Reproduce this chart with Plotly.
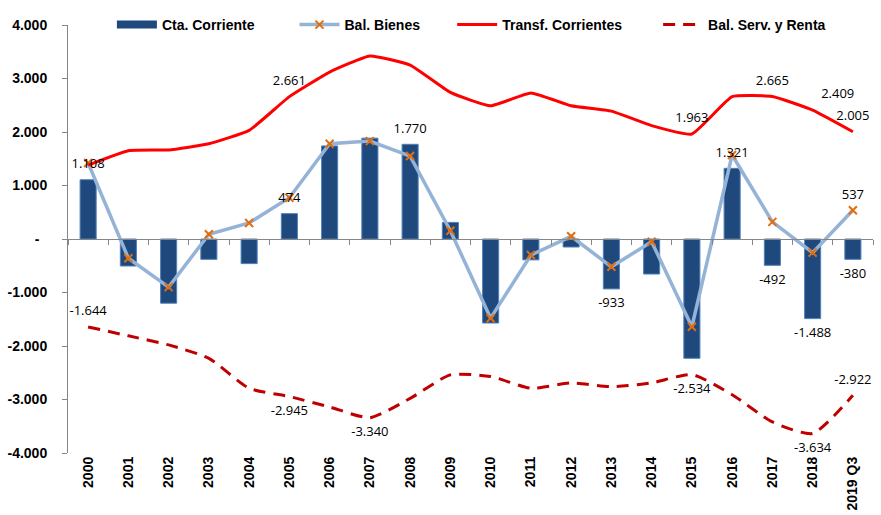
import plotly.graph_objects as go

years = ["2000", "2001", "2002", "2003", "2004", "2005", "2006", "2007", "2008", "2009",
         "2010", "2011", "2012", "2013", "2014", "2015", "2016", "2017", "2018", "2019 Q3"]

cta_corriente = [1108, -505, -1200, -380, -460, 474, 1740, 1885, 1770, 310,
                 -1570, -390, -150, -933, -655, -2230, 1321, -492, -1488, -380]
bal_bienes = [1420, -360, -900, 90, 300, 770, 1780, 1830, 1550, 155,
              -1480, -300, 50, -520, -50, -1640, 1570, 320, -255, 537]
transf_corrientes = [1380, 1650, 1665, 1780, 2030, 2661, 3120, 3420, 3250, 2740,
                     2490, 2730, 2490, 2390, 2120, 1963, 2660, 2665, 2409, 2005]
bal_serv_renta = [-1644, -1810, -1980, -2230, -2790, -2945, -3140, -3340, -2980, -2540,
                  -2570, -2790, -2690, -2760, -2690, -2534, -2910, -3420, -3634, -2922]

# which points carry a data label
cta_labeled = ["2000", "2005", "2008", "2013", "2016", "2017", "2018", "2019 Q3"]
bienes_labeled = ["2019 Q3"]
transf_labeled = ["2005", "2015", "2017", "2018", "2019 Q3"]
serv_labeled = ["2000", "2005", "2007", "2015", "2018", "2019 Q3"]

ytick_vals = [-4000, -3000, -2000, -1000, 0, 1000, 2000, 3000, 4000]
ytick_text = ["-4.000", "-3.000", "-2.000", "-1.000", "-\u00a0\u00a0", "1.000", "2.000", "3.000", "4.000"]

C_BAR = "#1F497D"
C_BIENES = "#95B3D7"
C_MARK = "#E46C0A"
C_TRANSF = "#FF0000"
C_SERV = "#C00000"
LBL_FONT = dict(family="Open Sans", size=13, color="#000000")


def fmt(v):
    s = f"{abs(v):,.0f}".replace(",", ".")
    return ("-" if v < 0 else "") + s


def label_trace(vals, labeled, positions):
    xs, ys, ts, ps = [], [], [], []
    for yr, v in zip(years, vals):
        if yr in labeled:
            xs.append(yr)
            ys.append(v)
            ts.append(fmt(v))
            ps.append(positions(yr, v))
    return go.Scatter(x=xs, y=ys, text=ts, textposition=ps, mode="markers+text",
                      marker=dict(size=12, opacity=0), textfont=LBL_FONT,
                      showlegend=False, hoverinfo="skip", cliponaxis=False)


fig = go.Figure()

# bars
fig.add_trace(go.Bar(x=years, y=cta_corriente, name="Cta. Corriente",
                     marker=dict(color=C_BAR, line=dict(color="#4F81BD", width=1)),
                     showlegend=False))
# lines
fig.add_trace(go.Scatter(x=years, y=bal_bienes, name="Bal. Bienes", mode="lines+markers",
                         line=dict(color=C_BIENES, width=3.5),
                         marker=dict(symbol="x-thin", size=8, color=C_MARK,
                                     line=dict(color=C_MARK, width=2)),
                         showlegend=False))
fig.add_trace(go.Scatter(x=years, y=transf_corrientes, name="Transf. Corrientes", mode="lines",
                         line=dict(color=C_TRANSF, width=3, shape="spline", smoothing=0.4),
                         showlegend=False))
fig.add_trace(go.Scatter(x=years, y=bal_serv_renta, name="Bal. Serv. y Renta", mode="lines",
                         line=dict(color=C_SERV, width=3, dash="12px,8px", shape="spline", smoothing=0.6),
                         showlegend=False))

# data labels
fig.add_trace(label_trace(cta_corriente, cta_labeled,
                          lambda yr, v: "top center" if v >= 0 else "bottom center"))
fig.add_trace(label_trace(bal_bienes, bienes_labeled, lambda yr, v: "top center"))
fig.add_trace(label_trace(transf_corrientes, transf_labeled,
                          lambda yr, v: "top right" if yr == "2018" else "top center"))
fig.add_trace(label_trace(bal_serv_renta, serv_labeled,
                          lambda yr, v: "top center" if yr in ("2000", "2019 Q3") else "bottom center"))

# dummy trace registering categories on the zero-line axis
fig.add_trace(go.Scatter(x=years, y=cta_corriente, xaxis="x2", mode="markers",
                         marker=dict(opacity=0), showlegend=False, hoverinfo="skip"))

# legend entries
fig.add_trace(go.Scatter(x=[None], y=[None], mode="lines", name="Cta. Corriente" + "\u00a0" * 9,
                         line=dict(color=C_BAR, width=8)))
fig.add_trace(go.Scatter(x=[None], y=[None], mode="lines+markers", name="Bal. Bienes" + "\u00a0" * 7,
                         line=dict(color=C_BIENES, width=3.5),
                         marker=dict(symbol="x-thin", size=8, color=C_MARK,
                                     line=dict(color=C_MARK, width=2))))
fig.add_trace(go.Scatter(x=[None], y=[None], mode="lines", name="Transf. Corrientes" + "\u00a0" * 8,
                         line=dict(color=C_TRANSF, width=3)))
fig.add_trace(go.Scatter(x=[None], y=[None], mode="lines", name="Bal. Serv. y Renta",
                         line=dict(color=C_SERV, width=3, dash="12px,8px")))

xrange = [-0.5, len(years) - 0.5]

fig.update_layout(
    width=881, height=515,
    margin=dict(l=68, r=8, t=25, b=62, autoexpand=False),
    paper_bgcolor="white", plot_bgcolor="white",
    bargap=0.6,
    showlegend=True,
    legend=dict(orientation="h", xref="container", yref="container",
                x=0.127, y=1 - 25 / 515, xanchor="left", yanchor="middle",
                bgcolor="rgba(0,0,0,0)", itemwidth=40,
                font=dict(family="Arial", size=14, color="#000000", weight="bold"),
                traceorder="normal"),
    font=dict(family="Arial", color="#000000"),
    xaxis=dict(type="category", categoryorder="array", categoryarray=years,
               range=xrange, autorange=False,
               showline=False, ticks="", showgrid=False, zeroline=False,
               tickangle=-90, automargin=False,
               tickfont=dict(family="Arial", size=14, color="#000000", weight="bold")),
    xaxis2=dict(type="category", categoryorder="array", categoryarray=years,
                overlaying="x", matches="x", anchor="free", position=0.5,
                showline=True, linecolor="#868686", linewidth=1,
                ticks="outside", tickson="boundaries", ticklen=5, tickcolor="#868686",
                showticklabels=False, showgrid=False, zeroline=False, automargin=False),
    yaxis=dict(range=[-4000, 4000], tickvals=ytick_vals, ticktext=ytick_text,
               showline=True, linecolor="#868686", linewidth=1,
               ticks="outside", ticklen=5, tickcolor="#868686",
               ticklabelstandoff=12, automargin=False,
               showgrid=False, zeroline=False,
               tickfont=dict(family="Arial", size=14, color="#000000", weight="bold")),
)

fig.write_html("out.html", config={"displayModeBar": False},
               post_script="document.body.style.margin='0';document.body.style.overflow='hidden';")
